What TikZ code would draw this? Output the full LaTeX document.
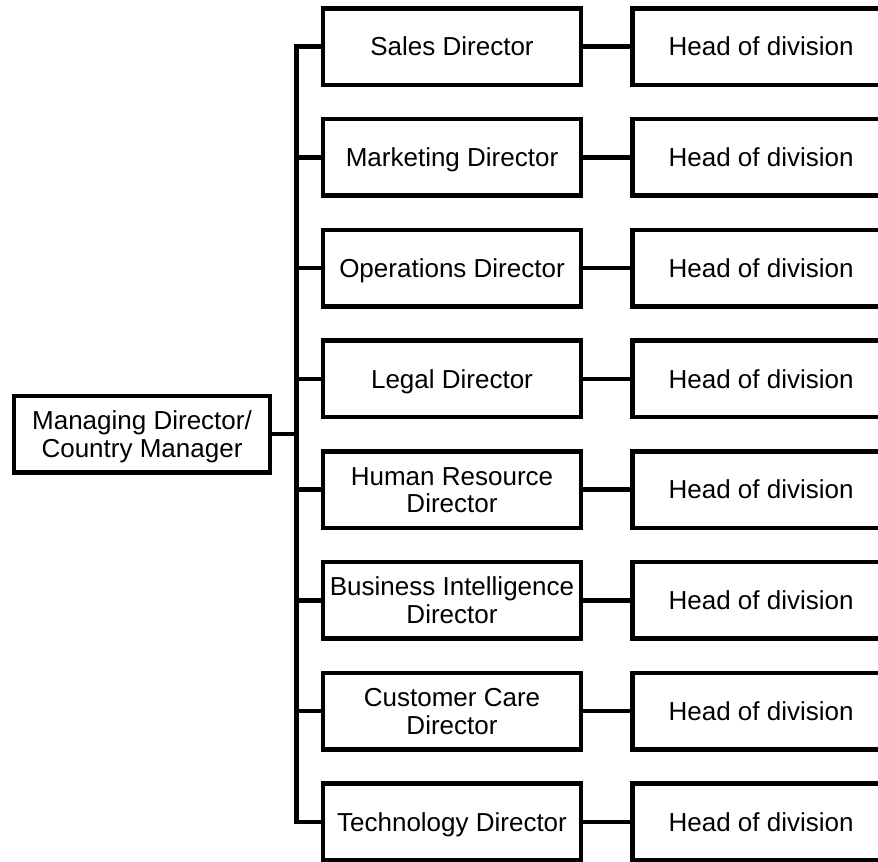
\documentclass[tikz,border=0pt]{standalone}
\usepackage{fontspec}
\setmainfont{Liberation Sans}
\usetikzlibrary{positioning, calc}

\begin{document}
\begin{tikzpicture}[
    node distance=0.744cm and 1.175cm,
    every node/.style={align=center, font=\fontsize{18.5}{19.6}\selectfont},
    post/.style={rectangle, draw=black, line width=3.2pt, minimum width=6.44cm, minimum height=1.9125cm, inner sep=1pt, text height=13.2pt, text depth=0pt},
    twolines/.style={text height=32.8pt},
    link/.style={black, line width=3.2pt}
]
\useasboundingbox (0,0) rectangle (21.95,-21.525);

% Nodes
\node[post, twolines, minimum width=6.39cm] (md) at (3.55,-10.85) {Managing Director/\\Country Manager};
\node[post] (sales) at (11.3,-1.1625) {Sales Director};
\node[post, below=of sales] (marketing) {Marketing Director};
\node[post, below=of marketing] (operations) {Operations Director};
\node[post, below=of operations] (legal) {Legal Director};
\node[post, twolines, below=of legal] (hr) {Human Resource\\Director};
\node[post, twolines, below=of hr] (bi) {Business Intelligence\\Director};
\node[post, twolines, below=of bi] (care) {Customer Care\\Director};
\node[post, below=of care] (tech) {Technology Director};

% Heads of division
\foreach \d in {sales, marketing, operations, legal, hr, bi, care, tech} {
    \node[post, right=of \d] (\d-head) {Head of division};
    \draw[link] (\d.east) -- (\d-head.west);
}

% Lines
\coordinate (bus) at ($(md.east)!0.5!(md.east -| legal.west)$);
\draw[link] (md.east) -- (bus);
\draw[link] (sales.west) -| (bus) |- (tech.west);
\foreach \d in {marketing, operations, legal, hr, bi, care} {
    \draw[link] (\d.west) -- (\d.west -| bus);
}

\end{tikzpicture}
\end{document}
